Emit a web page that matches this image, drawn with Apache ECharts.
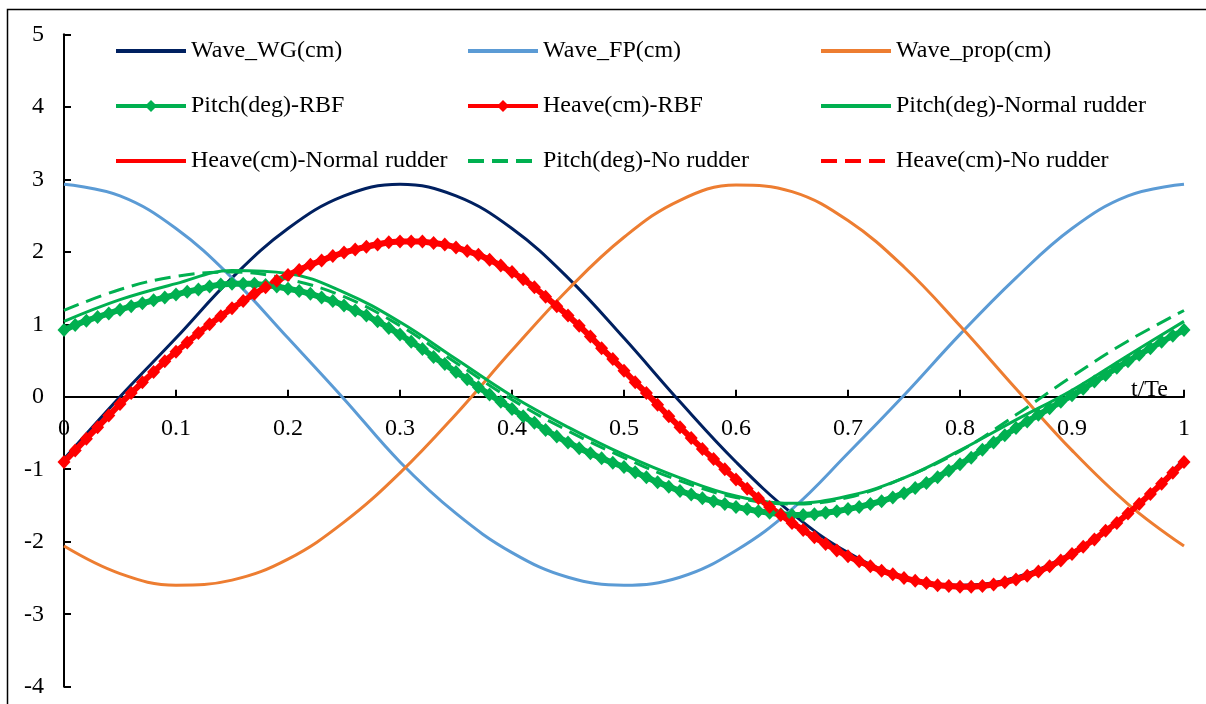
<!DOCTYPE html>
<html>
<head>
<meta charset="utf-8">
<script src="https://cdn.jsdelivr.net/npm/echarts@6/dist/echarts.min.js"></script>
<style>
html,body{margin:0;padding:0;background:#fff;}
#chart{width:1206px;height:704px;}
</style>
</head>
<body>
<div id="chart"></div>
<script>
// ---- data ----
const xCoarse = [0,0.05,0.1,0.15,0.2,0.25,0.3,0.35,0.4,0.45,0.5,0.55,0.6,0.65,0.7,0.75,0.8,0.85,0.9,0.95,1];
const xFine = [0,0.01,0.02,0.03,0.04,0.05,0.06,0.07,0.08,0.09,
  0.1,0.11,0.12,0.13,0.14,0.15,0.16,0.17,0.18,0.19,
  0.2,0.21,0.22,0.23,0.24,0.25,0.26,0.27,0.28,0.29,
  0.3,0.31,0.32,0.33,0.34,0.35,0.36,0.37,0.38,0.39,
  0.4,0.41,0.42,0.43,0.44,0.45,0.46,0.47,0.48,0.49,
  0.5,0.51,0.52,0.53,0.54,0.55,0.56,0.57,0.58,0.59,
  0.6,0.61,0.62,0.63,0.64,0.65,0.66,0.67,0.68,0.69,
  0.7,0.71,0.72,0.73,0.74,0.75,0.76,0.77,0.78,0.79,
  0.8,0.81,0.82,0.83,0.84,0.85,0.86,0.87,0.88,0.89,
  0.9,0.91,0.92,0.93,0.94,0.95,0.96,0.97,0.98,0.99,1];

const waveWG = [-0.86,0.00,0.81,1.64,2.32,2.77,2.93,2.77,2.32,1.64,0.81,-0.07,-0.90,-1.61,-2.15,-2.49,-2.60,-2.49,-2.15,-1.61,-0.86];
const waveFP = [2.93,2.77,2.32,1.64,0.81,-0.03,-0.90,-1.61,-2.15,-2.49,-2.60,-2.49,-2.12,-1.55,-0.78,0.02,0.86,1.64,2.32,2.77,2.93];
const waveProp = [-2.06,-2.44,-2.60,-2.53,-2.24,-1.73,-1.05,-0.24,0.64,1.48,2.20,2.71,2.92,2.83,2.43,1.79,0.98,0.11,-0.74,-1.48,-2.06];

const pitchRBF = [0.92,0.99,1.05,1.10,1.15,
  1.20,1.25,1.29,1.33,1.37,
  1.41,1.45,1.48,1.52,1.55,
  1.56,1.56,1.56,1.54,1.52,
  1.49,1.46,1.42,1.37,1.32,
  1.26,1.19,1.12,1.04,0.95,
  0.86,0.76,0.66,0.55,0.45,
  0.34,0.24,0.13,0.03,-0.07,
  -0.17,-0.27,-0.36,-0.46,-0.55,
  -0.63,-0.71,-0.78,-0.85,-0.91,
  -0.97,-1.04,-1.11,-1.18,-1.24,
  -1.30,-1.35,-1.40,-1.44,-1.48,
  -1.52,-1.55,-1.58,-1.60,-1.62,
  -1.63,-1.63,-1.62,-1.60,-1.58,
  -1.55,-1.52,-1.48,-1.44,-1.39,
  -1.33,-1.26,-1.19,-1.11,-1.02,
  -0.93,-0.84,-0.73,-0.63,-0.53,
  -0.43,-0.34,-0.25,-0.16,-0.07,
  0.02,0.11,0.21,0.30,0.40,
  0.49,0.58,0.67,0.76,0.84,
  0.92];

const heaveRBF = [-0.90,-0.74,-0.58,-0.42,-0.26,
  -0.10,0.05,0.20,0.34,0.49,
  0.62,0.75,0.88,1.00,1.11,
  1.22,1.32,1.42,1.51,1.60,
  1.68,1.75,1.82,1.88,1.94,
  1.99,2.03,2.07,2.10,2.13,
  2.14,2.14,2.14,2.12,2.10,
  2.06,2.01,1.96,1.89,1.81,
  1.72,1.62,1.51,1.38,1.25,
  1.12,0.98,0.83,0.67,0.52,
  0.36,0.20,0.05,-0.11,-0.27,
  -0.42,-0.57,-0.72,-0.86,-1.00,
  -1.14,-1.27,-1.40,-1.52,-1.63,
  -1.74,-1.84,-1.94,-2.03,-2.12,
  -2.20,-2.27,-2.34,-2.40,-2.45,
  -2.50,-2.54,-2.57,-2.60,-2.61,
  -2.62,-2.62,-2.61,-2.59,-2.56,
  -2.52,-2.47,-2.41,-2.34,-2.26,
  -2.17,-2.07,-1.97,-1.85,-1.74,
  -1.61,-1.48,-1.34,-1.20,-1.05,
  -0.90];

const pitchNormal = [1.04,1.34,1.56,1.74,1.70,1.44,1.03,0.52,0.01,-0.42,-0.80,-1.12,-1.37,-1.47,-1.37,-1.12,-0.74,-0.32,0.09,0.57,1.04];
const heaveNormal = [-0.89,-0.08,0.63,1.23,1.69,2.00,2.15,2.07,1.73,1.13,0.37,-0.41,-1.13,-1.73,-2.19,-2.49,-2.61,-2.51,-2.16,-1.60,-0.89];
const pitchNo = [1.19,1.48,1.66,1.72,1.62,1.38,0.98,0.47,-0.04,-0.47,-0.84,-1.16,-1.39,-1.48,-1.39,-1.12,-0.75,-0.25,0.28,0.77,1.19];
const heaveNo = [-0.91,-0.11,0.61,1.21,1.67,1.98,2.13,2.05,1.71,1.11,0.35,-0.43,-1.15,-1.75,-2.21,-2.51,-2.63,-2.53,-2.18,-1.62,-0.91];

const seriesNames = ['Wave_WG(cm)','Wave_FP(cm)','Wave_prop(cm)',
  'Pitch(deg)-RBF','Heave(cm)-RBF','Pitch(deg)-Normal rudder',
  'Heave(cm)-Normal rudder','Pitch(deg)-No rudder','Heave(cm)-No rudder'];
const yTicks = [-4,-3,-2,-1,0,1,2,3,4,5];
const xAxisName = 't/Te';

// ---- chart ----
const FONT = "'Liberation Serif','Times New Roman',serif";
const pairs = (xs, ys) => xs.map((x, i) => [x, ys[i]]);
const C = {navy:'#002060', lblue:'#5B9BD5', orange:'#ED7D31', green:'#00B050', red:'#FF0000'};

function lineSeries(name, xs, ys, color, dashed) {
  return {
    name, type:'line', data: pairs(xs, ys), smooth: 0.4, symbol:'none',
    lineStyle:{color, width:3, type: dashed ? [16, 8] : 'solid'},
    itemStyle:{color}, emphasis:{disabled:true}
  };
}
function markerSeries(name, xs, ys, color) {
  return {
    name, type:'line', data: pairs(xs, ys), smooth:false, symbol:'diamond', symbolSize:[13,14],
    showSymbol:true, showAllSymbol:true,
    lineStyle:{color, width:6}, itemStyle:{color, borderWidth:0}, emphasis:{disabled:true}
  };
}

const series = [
  lineSeries(seriesNames[0], xCoarse, waveWG, C.navy),
  lineSeries(seriesNames[1], xCoarse, waveFP, C.lblue),
  lineSeries(seriesNames[2], xCoarse, waveProp, C.orange),
  markerSeries(seriesNames[3], xFine, pitchRBF, C.green),
  markerSeries(seriesNames[4], xFine, heaveRBF, C.red),
  lineSeries(seriesNames[5], xCoarse, pitchNormal, C.green),
  lineSeries(seriesNames[6], xCoarse, heaveNormal, C.red),
  lineSeries(seriesNames[7], xCoarse, pitchNo, C.green, true),
  lineSeries(seriesNames[8], xCoarse, heaveNo, C.red, true)
];

const withMarker = [false,false,false,true,true,false,false,false,false];
const colLeft = [109, 461, 814];
const rowTop = [34, 89, 144];
const legends = seriesNames.map((n, i) => ({
  data:[n], left: colLeft[i % 3], top: rowTop[Math.floor(i / 3)],
  itemWidth:70, itemHeight:15, itemGap:0, selectedMode:false,
  lineStyle:{width:4},
  itemStyle: withMarker[i] ? {} : {opacity:0, color:'rgba(0,0,0,0)', borderColor:'rgba(0,0,0,0)'},
  textStyle:{fontFamily:FONT, fontSize:24, color:'#000'}
}));

const chart = echarts.init(document.getElementById('chart'), null, {renderer:'canvas'});
chart.setOption({
  animation:false,
  backgroundColor:'#fff',
  textStyle:{fontFamily:FONT},
  graphic:[{type:'rect', z:-10, shape:{x:7.5, y:9.5, width:1300, height:800},
    style:{fill:'none', stroke:'#000', lineWidth:1.5}}],
  legend: legends,
  grid:{left:64, right:22, top:34.3, bottom:17.3, containLabel:false, outerBoundsMode:'none'},
  xAxis:{
    type:'value', min:0, max:1, interval:0.1, position:'bottom', offset:-290,
    name: xAxisName, nameLocation:'end', nameGap:-16,
    nameTextStyle:{fontFamily:FONT, fontSize:24, color:'#000', align:'right', verticalAlign:'bottom', lineHeight:14},
    axisLine:{onZero:false, lineStyle:{color:'#000', width:2}},
    axisTick:{inside:true, length:7, lineStyle:{color:'#000', width:2}},
    axisLabel:{fontFamily:FONT, fontSize:24, color:'#000', margin:20},
    splitLine:{show:false}
  },
  yAxis:{
    type:'value', min:yTicks[0], max:yTicks[yTicks.length-1], interval:1,
    axisLine:{show:true, onZero:false, lineStyle:{color:'#000', width:2}},
    axisTick:{show:true, inside:true, length:7, lineStyle:{color:'#000', width:2}},
    axisLabel:{fontFamily:FONT, fontSize:24, color:'#000', margin:20},
    splitLine:{show:false}
  },
  series
});
</script>
</body>
</html>
